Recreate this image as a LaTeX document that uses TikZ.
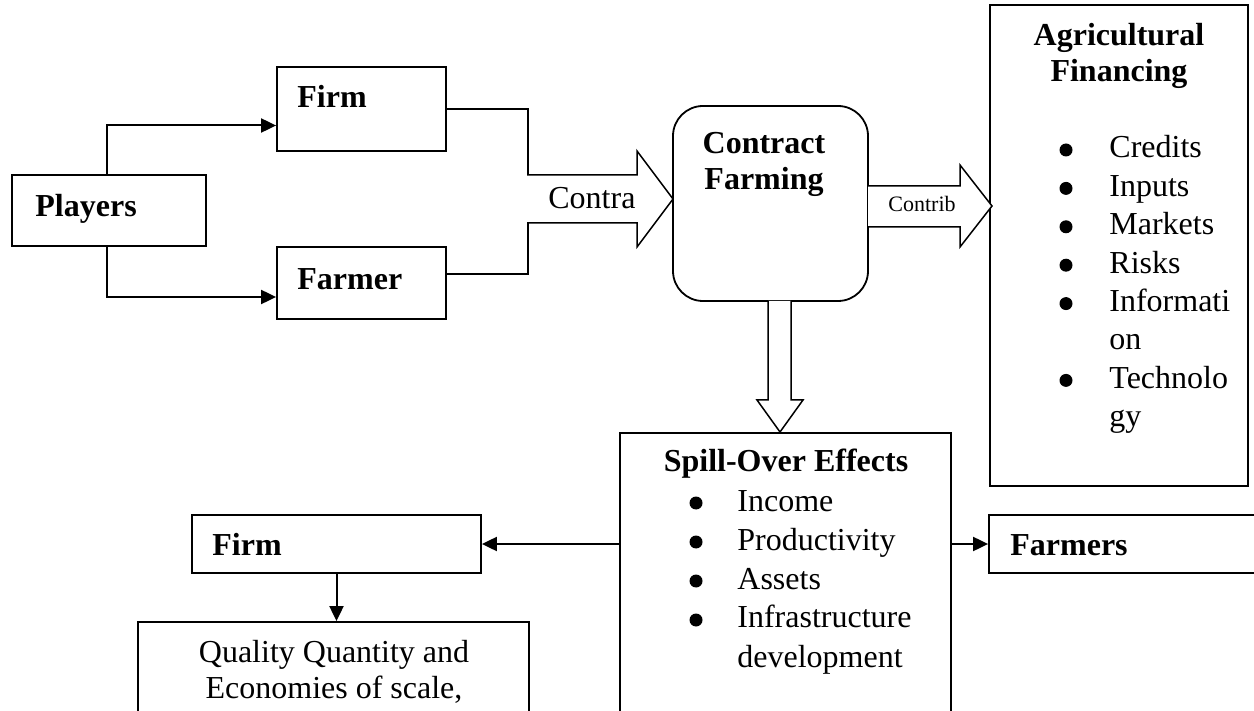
\documentclass[tikz,border=0pt]{standalone}
\usepackage{fontspec}
\setmainfont{Liberation Serif}
\usetikzlibrary{arrows.meta,calc,fit}

\tikzset{
  box/.style={draw, line width=0.9pt, inner sep=0pt},
  bigtxt/.style={font=\fontsize{16}{19.2}\selectfont, inner sep=0pt},
  boldtxt/.style={font=\fontsize{16}{19.2}\selectfont\bfseries, inner sep=0pt},
  link/.style={line width=0.75pt},
  pointer/.style={line width=1pt, -{Triangle[length=7.5pt,width=7pt]}},
  fatarrow/.style={draw, line width=0.75pt, fill=white, line join=miter},
}

\begin{document}
\begin{tikzpicture}[x=0.5pt, y=-0.5pt]
\useasboundingbox (0,0) rectangle (1254,711);
\clip (0,0) rectangle (1254,711);

% boxes
\node[box, fit={(12,175) (206,246)}] (players) {};
\node[box, fit={(277,67) (446,151)}] (firmtop) {};
\node[box, fit={(277,247) (446,319)}] (farmer) {};
\node[box, rounded corners=15pt, fit={(673,106) (868,301)}] (cf) {};
\node[box, fit={(990,5) (1248,486)}] (agri) {};
\node[box, fit={(620,433) (951,730)}] (spill) {};
\node[box, fit={(192,515) (481,573)}] (firmbot) {};
\node[box, fit={(138,622) (529,730)}] (quality) {};
\node[box, fit={(989,515) (1270,573)}] (farmers) {};

% players to firm and farmer
\draw[pointer] ($(players.north west)+(96,0)$) |- ($(firmtop.west)+(0,16.5)$);
\draw[pointer] ($(players.south west)+(96,0)$) |- ($(farmer.west)+(0,14)$);
\draw[link] (firmtop.east) -- ($(firmtop.east)+(81,0)$) |- ($(farmer.east)+(0,-9)$);

% block arrows
\draw[fatarrow] (527,175) -- (637,175) -- (637,151) -- (673,199) -- (637,247) -- (637,223) -- (527,223);
\draw[fatarrow] (868,186) -- (960,186) -- (960,165) -- (992,206) -- (960,247) -- (960,227) -- (868,227);
\draw[fatarrow] (768,301) -- (768,400) -- (757,400) -- (780,432) -- (803,400) -- (791,400) -- (791,301);

% spill-over to firm and farmers
\draw[pointer] (firmbot.east -| spill.west) -- (firmbot.east);
\draw[pointer] (farmers.west -| spill.east) -- (farmers.west);
\draw[pointer] (firmbot.south) -- (firmbot.south |- quality.north);

% bullets
\foreach \y in {150,188.4,226.8,265.2,303.6,380.4}
  \fill (1066,\y) circle[radius=6.5];
\foreach \y in {503,542,581,620}
  \fill (696,\y) circle[radius=6.5];

% texts
\node[boldtxt, anchor=base west] (t-players) at (35,217) {Players};
\node[boldtxt, anchor=base west] (t-firmtop) at (297,108) {Firm};
\node[boldtxt, anchor=base west] (t-farmer) at (297,290) {Farmer};
\node[bigtxt, anchor=base west] (t-contra) at (548,209) {Contra};
\node[boldtxt, anchor=base] (t-cf1) at (764,154) {Contract};
\node[boldtxt, anchor=base] (t-cf2) at (764,190) {Farming};
\node[font=\fontsize{11}{13}\selectfont, inner sep=0pt, anchor=base west] (t-contrib) at (888,212) {Contrib};
\node[boldtxt, anchor=base] (t-agri1) at (1119,46) {Agricultural};
\node[boldtxt, anchor=base] (t-agri2) at (1119,82) {Financing};
\node[bigtxt, anchor=base west] (agrilist) at (1109,158) {\begin{tabular}[t]{@{}l@{}}
Credits\\ Inputs\\ Markets\\ Risks\\ Informati\\ on\\ Technolo\\ gy
\end{tabular}};
\node[boldtxt, anchor=base] (t-spill) at (786,472) {Spill-Over Effects};
\node[font=\fontsize{16}{19.5}\selectfont, inner sep=0pt, anchor=base west] (spilllist) at (737,511) {\begin{tabular}[t]{@{}l@{}}
Income\\ Productivity\\ Assets\\ Infrastructure\\ development
\end{tabular}};
\node[boldtxt, anchor=base west] (t-firmbot) at (212,555) {Firm};
\node[boldtxt, anchor=base west] (t-farmers) at (1010,555) {Farmers};
\node[bigtxt, anchor=base] (t-qual1) at (334,662) {Quality Quantity and};
\node[bigtxt, anchor=base] (t-qual2) at (334,698) {Economies of scale,};
\end{tikzpicture}
\end{document}
